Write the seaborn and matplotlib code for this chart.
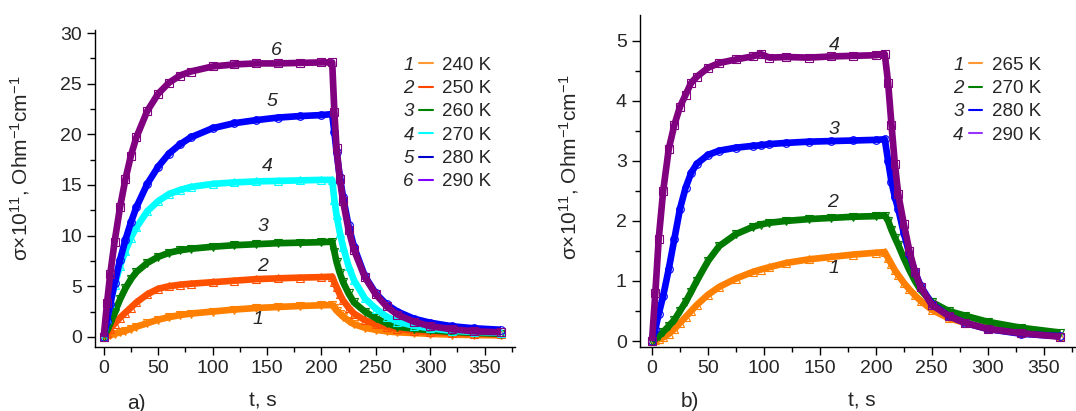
import numpy as np
import pandas as pd
import seaborn as sns
import matplotlib.pyplot as plt
from matplotlib.lines import Line2D
from matplotlib.ticker import MultipleLocator

# ---- panel a) data (t in s, sigma x 1e11) ----
t_a = [0, 3, 6, 10, 15, 20, 25, 30, 40, 50, 60, 70, 80, 100, 120, 140, 160, 180, 200, 210,
       212, 214, 217, 220, 225, 230, 240, 250, 260, 270, 285, 300, 320, 340, 365]
a_240 = [0, 0.05, 0.15, 0.3, 0.45, 0.6, 0.8, 1.0, 1.35, 1.7, 1.95, 2.15, 2.3, 2.5, 2.7, 2.85, 2.95, 3.05, 3.12, 3.15,
         2.9, 2.6, 2.3, 2.0, 1.6, 1.25, 0.9, 0.7, 0.55, 0.45, 0.38, 0.3, 0.22, 0.18, 0.15]
a_250 = [0, 0.4, 0.8, 1.3, 1.9, 2.4, 2.9, 3.4, 4.2, 4.75, 5.0, 5.15, 5.25, 5.4, 5.55, 5.7, 5.78, 5.85, 5.9, 5.95,
         5.4, 4.9, 4.2, 3.6, 2.9, 2.3, 1.65, 1.25, 1.0, 0.8, 0.6, 0.5, 0.4, 0.32, 0.25]
a_260 = [0, 0.6, 1.3, 2.4, 3.7, 4.8, 5.7, 6.4, 7.3, 7.9, 8.3, 8.55, 8.7, 8.9, 9.05, 9.15, 9.25, 9.3, 9.35, 9.4,
         8.4, 7.4, 6.3, 5.4, 4.3, 3.4, 2.5, 1.85, 1.35, 1.0, 0.8, 0.65, 0.5, 0.4, 0.3]
a_270 = [0, 1.75, 3.3, 5.1, 7.0, 8.5, 9.8, 10.8, 12.4, 13.4, 14.1, 14.5, 14.8, 15.1, 15.25, 15.35, 15.4, 15.45, 15.5, 15.5,
         13.5, 12.0, 10.3, 8.9, 7.0, 5.6, 3.8, 2.8, 2.0, 1.5, 1.1, 0.85, 0.6, 0.5, 0.4]
a_280 = [0, 1.6, 3.2, 5.3, 7.6, 9.6, 11.3, 12.8, 15.1, 16.8, 18.1, 19.0, 19.7, 20.6, 21.1, 21.4, 21.65, 21.8, 21.9, 22.0,
         20.2, 18.3, 15.8, 13.8, 11.0, 8.9, 6.0, 4.3, 3.2, 2.5, 1.8, 1.4, 1.05, 0.85, 0.7]
a_290 = [0, 3.3, 6.2, 9.4, 12.8, 15.6, 17.9, 19.7, 22.3, 24.0, 25.1, 25.8, 26.2, 26.7, 26.9, 27.0, 27.0, 27.05, 27.1, 27.1,
         22.2, 18.6, 15.6, 13.4, 10.6, 8.6, 5.9, 4.2, 3.0, 2.2, 1.5, 1.05, 0.75, 0.55, 0.45]

# ---- panel b) data ----
t_b = [0, 3, 6, 10, 15, 20, 25, 30, 35, 40, 50, 60, 75, 90, 97, 105, 120, 140, 160, 180, 200, 208,
       211, 214, 217, 220, 225, 230, 235, 240, 250, 265, 280, 300, 330, 365]
b_265 = [0, 0.01, 0.03, 0.06, 0.12, 0.2, 0.3, 0.4, 0.5, 0.6, 0.77, 0.9, 1.04, 1.15, 1.19, 1.23, 1.3, 1.36, 1.4, 1.44, 1.47, 1.48,
         1.38, 1.28, 1.18, 1.1, 0.97, 0.86, 0.76, 0.67, 0.52, 0.38, 0.3, 0.22, 0.14, 0.09]
b_270 = [0, 0.03, 0.08, 0.15, 0.25, 0.35, 0.5, 0.65, 0.82, 1.0, 1.33, 1.58, 1.78, 1.9, 1.94, 1.97, 2.0, 2.03, 2.05, 2.07, 2.08, 2.09,
         2.0, 1.85, 1.72, 1.6, 1.38, 1.18, 1.0, 0.85, 0.65, 0.5, 0.42, 0.32, 0.22, 0.14]
b_280 = [0, 0.2, 0.45, 0.75, 1.2, 1.7, 2.2, 2.55, 2.8, 2.95, 3.1, 3.17, 3.22, 3.25, 3.26, 3.28, 3.3, 3.32, 3.33, 3.34, 3.35, 3.36,
         3.0, 2.65, 2.4, 2.2, 1.8, 1.45, 1.15, 0.92, 0.62, 0.42, 0.3, 0.2, 0.12, 0.08]
b_290 = [0, 0.8, 1.7, 2.5, 3.2, 3.6, 3.9, 4.1, 4.3, 4.4, 4.55, 4.63, 4.69, 4.74, 4.78, 4.72, 4.73, 4.72, 4.74, 4.75, 4.76, 4.78,
         4.3, 3.6, 2.95, 2.45, 1.95, 1.5, 1.15, 0.9, 0.6, 0.42, 0.3, 0.2, 0.13, 0.07]

labels_a = ["240 K", "250 K", "260 K", "270 K", "280 K", "290 K"]
labels_b = ["265 K", "270 K", "280 K", "290 K"]
curve_num_a = ["1", "2", "3", "4", "5", "6"]
curve_num_b = ["1", "2", "3", "4"]
# where the curve numbers sit (data coords)
num_pos_a = [(142, 1.7), (146, 6.9), (146, 10.9), (150, 16.8), (155, 23.2), (159, 28.3)]
num_pos_b = [(163, 1.2), (161, 2.3), (163, 3.53), (163, 4.92)]

sns.set_theme(style="ticks")
plt.rcParams['font.family'] = ['Liberation Sans', 'DejaVu Sans']
plt.rcParams['mathtext.fontset'] = 'custom'
plt.rcParams['mathtext.rm'] = 'Liberation Sans'
plt.rcParams['mathtext.it'] = 'Liberation Sans:italic'

fig = plt.figure(figsize=(10.76, 4.11), dpi=100)
ax1 = fig.add_axes([0.0883, 0.1557, 0.3903, 0.7713])
ax2 = fig.add_axes([0.5948, 0.1557, 0.4043, 0.8078])

series_a = [a_240, a_250, a_260, a_270, a_280, a_290]
colors_a = ['#ff8000', '#ff5000', '#007a00', '#00ffff', '#0000ff', '#800080']
markers_a = ['v', '^', 'v', '^', 'o', 's']
leg_colors_a = ['#ff9933', '#ff4500', '#008000', '#00ffff', '#0000cc', '#8000ff']

series_b = [b_265, b_270, b_280, b_290]
colors_b = ['#ff8000', '#007a00', '#0000ff', '#800080']
markers_b = ['^', 'v', 'o', 's']
leg_colors_b = ['#ff9933', '#008000', '#0000ff', '#9933ff']


def draw_panel(ax, t, series, colors, markers):
    for y, c, m in zip(series, colors, markers):
        df = pd.DataFrame({'t': t, 'sigma': y})
        sns.lineplot(data=df, x='t', y='sigma', ax=ax, color=c, lw=4.8,
                     solid_capstyle='butt', sort=False, legend=False)
        sns.lineplot(data=df, x='t', y='sigma', ax=ax, color=c, lw=0.8,
                     marker=m, markersize=5.5, markerfacecolor='none',
                     markeredgecolor=c, markeredgewidth=0.8, sort=False, legend=False)


draw_panel(ax1, t_a, series_a, colors_a, markers_a)
draw_panel(ax2, t_b, series_b, colors_b, markers_b)

for (x, y), s in zip(num_pos_a, curve_num_a):
    ax1.text(x, y, s, fontsize=14, style='italic', ha='center', va='center')
for (x, y), s in zip(num_pos_b, curve_num_b):
    ax2.text(x, y, s, fontsize=14, style='italic', ha='center', va='center')

ylab = r'σ×10$^{11}$, Ohm$^{-1}$cm$^{-1}$'
for ax in (ax1, ax2):
    sns.despine(ax=ax)
    ax.xaxis.set_major_locator(MultipleLocator(50))
    ax.xaxis.set_minor_locator(MultipleLocator(25))
    ax.tick_params(which='major', direction='out', length=6, width=1, labelsize=14, color='black')
    ax.tick_params(which='minor', direction='out', length=3.5, width=1, color='black')
    ax.set_xlabel('t, s', fontsize=15)
    ax.set_ylabel(ylab, fontsize=15)
    for sp in ('left', 'bottom'):
        ax.spines[sp].set_color('black')
        ax.spines[sp].set_linewidth(1)

ax1.set_xlim(-8, 378)
ax1.set_ylim(-1, 30.3)
ax1.yaxis.set_major_locator(MultipleLocator(5))
ax1.yaxis.set_minor_locator(MultipleLocator(2.5))
ax1.xaxis.set_label_coords(0.40, -0.14)
ax1.yaxis.set_label_coords(-0.15, 0.565)

ax2.set_xlim(-10.7, 378)
ax2.set_ylim(-0.1, 5.43)
ax2.yaxis.set_major_locator(MultipleLocator(1))
ax2.yaxis.set_minor_locator(MultipleLocator(0.5))
ax2.xaxis.set_label_coords(0.51, -0.134)
ax2.yaxis.set_label_coords(-0.135, 0.54)


def add_legend(ax, nums, labels, colors, anchor):
    blank = [Line2D([], [], color='none') for _ in nums]
    lines = [Line2D([], [], color=c, lw=1.5) for c in colors]
    leg = ax.legend(blank + lines, nums + labels, ncol=2, frameon=False,
                    loc='upper left', bbox_to_anchor=anchor, bbox_transform=fig.transFigure,
                    fontsize=13.5, handlelength=0.7, handletextpad=0.5, columnspacing=0.3,
                    labelspacing=0.33, borderpad=0, borderaxespad=0)
    for txt in leg.get_texts()[:len(nums)]:
        txt.set_fontstyle('italic')


add_legend(ax1, curve_num_a, labels_a, leg_colors_a, (0.354, 0.862))
add_legend(ax2, curve_num_b, labels_b, leg_colors_b, (0.865, 0.862))

fig.text(0.127, 0.019, 'a)', fontsize=15, ha='center', va='center')
fig.text(0.641, 0.022, 'b)', fontsize=15, ha='center', va='center')

fig.savefig('out.png', dpi=100)
